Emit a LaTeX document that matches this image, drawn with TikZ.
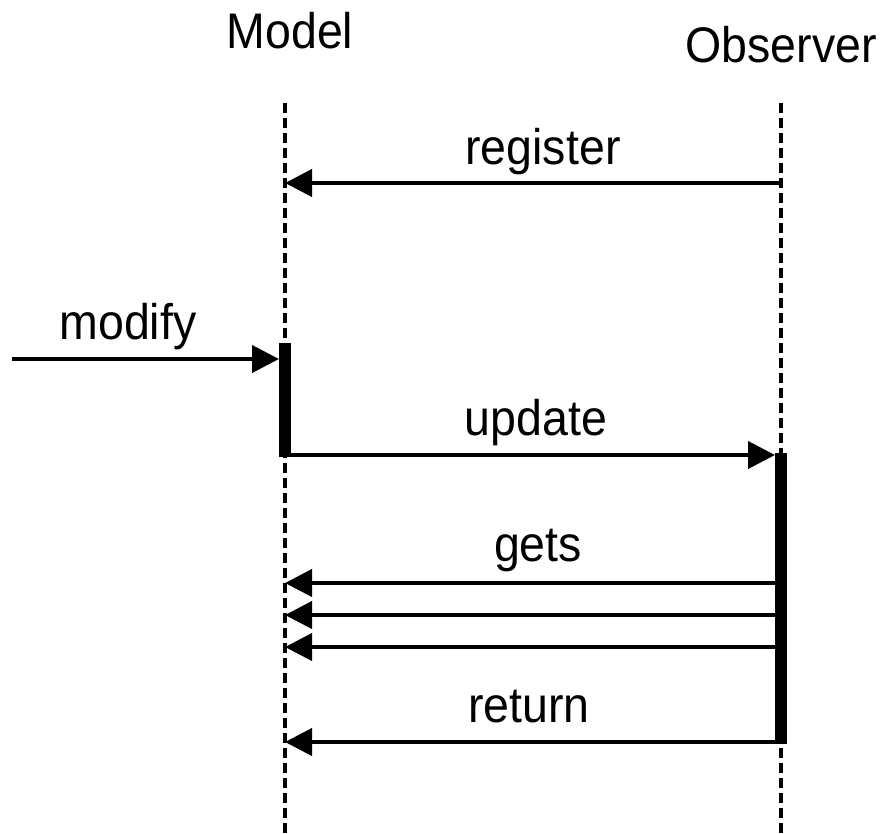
\documentclass[tikz,border=0pt]{standalone}
\usepackage{fontspec}
\setmainfont{Liberation Sans}[FakeStretch=0.93]
\usetikzlibrary{arrows.meta}
\tikzset{
  lbl/.style={anchor=base, inner sep=0pt, font=\fontsize{50}{60}\selectfont},
  lifeline/.style={line width=3.5pt, dash pattern=on 10pt off 5pt},
  msg/.style={line width=4pt, -{Triangle[length=27pt,width=27pt]}},
  actbar/.style={fill=black, draw=none}
}
\begin{document}
\begin{tikzpicture}[x=1pt,y=-1pt]
  \useasboundingbox (0,0) rectangle (890,833);
  % participants
  \node[lbl] (model) at (290,48) {Model};
  \node[lbl] (observer) at (781,62) {Observer};
  % lifelines
  \coordinate (mtop) at (285,103);
  \coordinate (mbot) at (285,833);
  \coordinate (otop) at (781,103);
  \coordinate (obot) at (781,833);
  \draw[lifeline] (mtop) -- (mbot);
  \draw[lifeline] (otop) -- (obot);
  % activation bars
  \fill[actbar] (279,343) rectangle (291,457);
  \fill[actbar] (775,453) rectangle (787,744);
  % named anchor points on the lifelines and bars
  \coordinate (regS) at (781,183);
  \coordinate (regT) at (285,183);
  \coordinate (modS) at (12,359);
  \coordinate (modT) at (279,359);
  \coordinate (updS) at (291,455);
  \coordinate (updT) at (775,455);
  \coordinate (g1S) at (775,583);
  \coordinate (g1T) at (285,583);
  \coordinate (g2S) at (775,615);
  \coordinate (g2T) at (285,615);
  \coordinate (g3S) at (775,647);
  \coordinate (g3T) at (285,647);
  \coordinate (retS) at (775,742);
  \coordinate (retT) at (285,742);
  % messages
  \draw[msg] (regS) -- (regT);
  \draw[msg] (modS) -- (modT);
  \draw[msg] (updS) -- (updT);
  \draw[msg] (g1S) -- (g1T);
  \draw[msg] (g2S) -- (g2T);
  \draw[msg] (g3S) -- (g3T);
  \draw[msg] (retS) -- (retT);
  % message labels
  \node[lbl] (register) at (543,164) {register};
  \node[lbl] (modify) at (128,339) {modify};
  \node[lbl] (update) at (536,435) {update};
  \node[lbl] (gets) at (538,561) {gets};
  \node[lbl] (return) at (529,722) {return};
\end{tikzpicture}
\end{document}
